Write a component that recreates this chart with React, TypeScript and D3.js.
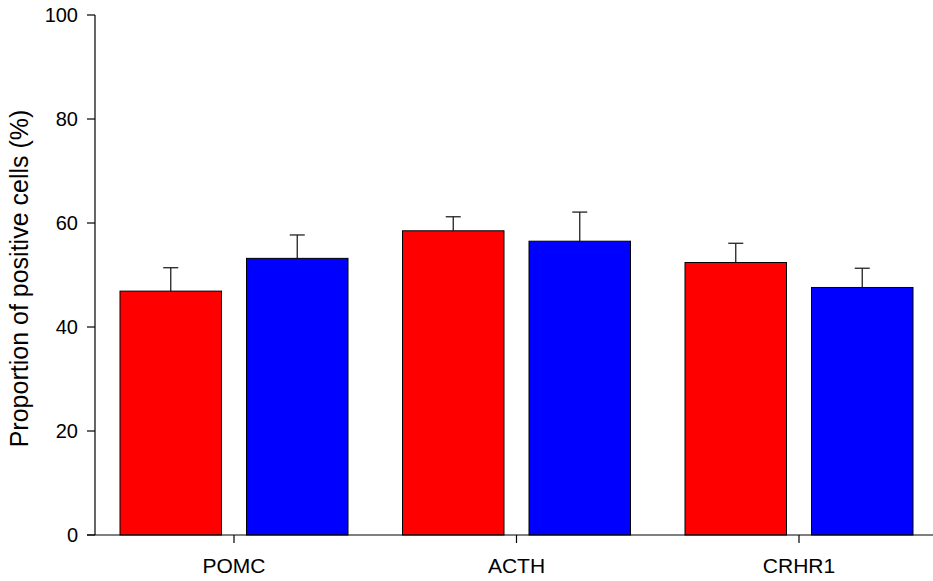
import React from "react";
import * as d3 from "d3";

const categories = ["POMC", "ACTH", "CRHR1"];
const seriesNames = ["A", "B"];
const seriesColors = ["#ff0000", "#0000ff"];
const valuesA = [46.9, 58.5, 52.4];
const valuesB = [53.2, 56.5, 47.6];
const errorsA = [4.5, 2.7, 3.7];
const errorsB = [4.5, 5.6, 3.7];
const yTicks = [0, 20, 40, 60, 80, 100];

const W = 933;
const H = 581;

export default function App() {
  const y = d3.scaleLinear().domain([0, 100]).range([535, 15]);
  const x0 = d3.scaleBand<string>().domain(categories).range([92.75, 940.25]).padding(0);
  const groupW = 228;
  const x1 = d3
    .scaleBand<string>()
    .domain(seriesNames)
    .range([-groupW / 2, groupW / 2])
    .paddingInner(25 / 126.5)
    .paddingOuter(0);
  const vals = [valuesA, valuesB];
  const errs = [errorsA, errorsB];
  const font = "Arial, 'Liberation Sans', sans-serif";
  const axisX = 95;

  return (
    <svg width={W} height={H} style={{ position: "absolute", left: 0, top: 0 }} fontFamily={font}>
      <rect x={0} y={0} width={W} height={H} fill="#fff" />
      {categories.map((c, ci) => {
        const cx = (x0(c) as number) + x0.bandwidth() / 2;
        return seriesNames.map((s, si) => {
          const bx = cx + (x1(s) as number);
          const bw = x1.bandwidth();
          const v = vals[si][ci];
          const e = errs[si][ci];
          const mid = bx + bw / 2;
          return (
            <g key={c + s}>
              <line x1={mid} x2={mid} y1={y(v)} y2={y(v + e)} stroke="#222" strokeWidth={1.3} />
              <line x1={mid - 7.5} x2={mid + 7.5} y1={y(v + e)} y2={y(v + e)} stroke="#222" strokeWidth={1.3} />
              <rect x={bx} y={y(v)} width={bw} height={y(0) - y(v)} fill={seriesColors[si]} stroke="#000" strokeWidth={1} />
            </g>
          );
        });
      })}
      {/* y axis */}
      <line x1={axisX} x2={axisX} y1={y(100)} y2={y(0)} stroke="#000" strokeWidth={1.2} />
      {yTicks.map((t) => (
        <g key={t}>
          <line x1={axisX - 8} x2={axisX} y1={y(t)} y2={y(t)} stroke="#000" strokeWidth={1.2} />
          <text x={78} y={y(t)} dy="0.36em" textAnchor="end" fontSize={20} fill="#000">
            {t}
          </text>
        </g>
      ))}
      {/* x axis */}
      <line x1={axisX - 8} x2={W} y1={y(0)} y2={y(0)} stroke="#000" strokeWidth={1.2} />
      {categories.map((c) => {
        const cx = (x0(c) as number) + x0.bandwidth() / 2;
        return (
          <g key={c}>
            <line x1={cx} x2={cx} y1={y(0)} y2={y(0) + 8} stroke="#000" strokeWidth={1.2} />
            <text x={cx} y={573} textAnchor="middle" fontSize={21} fill="#000">
              {c}
            </text>
          </g>
        );
      })}
      <text
        transform={`translate(28,278.5) rotate(-90)`}
        textAnchor="middle"
        fontSize={25}
        fill="#000"
      >
        Proportion of positive cells (%)
      </text>
    </svg>
  );
}
